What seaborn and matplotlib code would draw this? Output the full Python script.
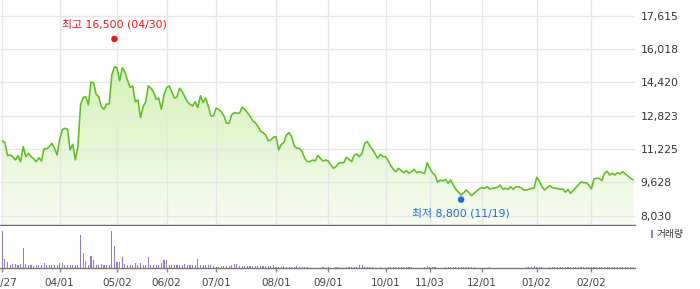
import numpy as np
import pandas as pd
import matplotlib
matplotlib.use("Agg")
import matplotlib.pyplot as plt
import seaborn as sns
from matplotlib.colors import LinearSegmentedColormap
from matplotlib.patches import Patch

# ---- data (trading-day index, closing price, volume in thousand shares) ----
close_price = [
    11610, 11530, 10910, 10940, 10860, 10700, 10910, 10620, 11340, 10860,
    11020, 10860, 10760, 10620, 10810, 10650, 11230, 11230, 11340, 11500,
    11260, 10940, 11690, 12140, 12220, 12170, 11180, 11450, 10700, 11340,
    13340, 13700, 13730, 13340, 14440, 14400, 13850, 13730, 13250, 13130,
    13380, 13380, 14770, 15170, 15120, 14490, 15120, 14930, 14530, 14180,
    14250, 13490, 13580, 12730, 13250, 13490, 14250, 14140, 13970, 13610,
    13660, 13130, 13810, 14160, 14250, 13970, 13660, 13730, 14140, 13970,
    13730, 13490, 13370, 13290, 13490, 13210, 13780, 13450, 13660, 13290,
    12810, 12810, 13180, 13130, 13010, 12810, 12460, 12460, 12860, 12970,
    12940, 12940, 13230, 13130, 12970, 12810, 12580, 12490, 12330, 12090,
    12010, 11900, 11620, 11660, 11790, 11820, 11180, 11450, 11530, 11900,
    12010, 11820, 11370, 11260, 11260, 11100, 10780, 10620, 10620, 10700,
    10650, 10920, 10780, 10650, 10700, 10650, 10460, 10300, 10380, 10540,
    10570, 10570, 10830, 10730, 10620, 10940,
    10990, 10860, 11020, 11500, 11580, 11370, 11210, 10990, 10780,
    10970, 10860, 10860, 10670, 10430, 10250, 10140, 10300, 10190, 10090,
    10190, 10060, 10140, 10250, 10090, 10140, 10090, 10060, 10570, 10300,
    10090, 9980, 9630, 9740, 9690, 9770, 9580, 9740, 9500, 9290,
    9150, 9020, 9130, 9260, 9130, 8990, 9100, 9210, 9320, 9370,
    9340, 9420, 9310, 9340, 9360, 9390, 9500, 9290, 9340, 9290,
    9420, 9290, 9420, 9420, 9370, 9260, 9260, 9290, 9340, 9340,
    9870, 9690, 9420, 9260, 9370, 9470, 9370, 9340, 9340, 9290,
    9310, 9150, 9290, 9100, 9230, 9370, 9500, 9650, 9610, 9610,
    9500, 9310, 9790, 9820, 9820, 9710, 10060, 10160, 9980, 10060,
    9980, 10090, 10030, 10140, 10030, 9930, 9820, 9740,
]

volume_k = [
    110, 28, 18, 10, 11, 11, 8, 11, 60, 13,
    8, 10, 5, 8, 10, 10, 16, 8, 10, 10,
    10, 8, 16, 16, 10, 10, 8, 8, 10, 8,
    98, 44, 20, 10, 35, 23, 10, 10, 13, 10,
    10, 8, 110, 65, 18, 18, 32, 13, 10, 10,
    10, 16, 8, 16, 10, 8, 32, 10, 8, 10,
    8, 16, 23, 23, 10, 10, 10, 10, 10, 10,
    13, 8, 10, 8, 8, 28, 8, 8, 8, 8,
    8, 6, 4, 4,
    6, 6, 5, 6,
    10, 13, 11,
    6, 5, 6, 7, 5, 6, 6, 5, 6, 6, 5, 6, 5,
    9,
    4, 4, 4, 5, 4, 4, 4, 4, 5, 4, 4, 4, 4,
    1, 1, 1, 1, 1,
    3, 1, 3, 1, 1, 3, 3, 1, 1,
    4, 4, 4, 4, 4, 9, 8, 4, 4, 4, 4,
    1, 1, 3, 1, 1,
    4, 3, 4, 3, 4, 4, 3, 4, 3, 4,
    1, 1, 1, 1,
    4, 7, 4, 3, 3,
    1, 1, 1,
    3, 3, 4, 3, 3, 3, 4, 3, 3, 3, 3, 3,
    1, 1, 1, 1, 1,
    3,
    1, 1, 1, 1, 1, 1, 1, 1, 1, 1, 1, 1, 1,
    3, 3, 4, 6, 3, 4, 3,
    1, 1,
    3, 3, 4, 3, 3, 3, 4, 3, 3, 3, 3, 4, 3, 3, 3, 3, 4, 3, 3, 3,
    3, 3, 4, 3, 3, 3, 3, 3, 4, 3, 3, 3, 3,
]

tick_idx = [0, 22, 44, 63, 82, 105, 125, 147, 164, 184, 205, 226]
tick_labels = ["02/27", "04/01", "05/02", "06/02", "07/01", "08/01",
               "09/01", "10/01", "11/03", "12/01", "01/02", "02/02"]
price_ticks = [8030, 9628, 11225, 12823, 14420, 16018, 17615]

high_idx, high_value, high_date = 43, 16500, "04/30"
low_idx, low_value, low_date = 176, 8800, "11/19"

assert len(close_price) == len(volume_k), (len(close_price), len(volume_k))

# ---- style ----
sns.set_theme(style="white")
plt.rcParams["font.family"] = ["DejaVu Sans", "Noto Sans CJK KR"]

df = pd.DataFrame({"idx": np.arange(len(close_price)),
                   "close": close_price,
                   "volume": volume_k})

line_c = "#5cbf22"
vol_c = "#9479cc"
grid_c = "#e6e6e6"

fig = plt.figure(figsize=(7, 2.89), dpi=100)
ax = fig.add_axes([0, 0.2215, 0.9071, 0.7785])
axv = fig.add_axes([0, 0.0727, 0.9071, 0.1453])

y_lo, y_hi = 7583, 18367
x_lo, x_hi = -0.9, 242.7

# gradient area fill under the price line
cmap = LinearSegmentedColormap.from_list("g", ["#f7fcf1", "#c6eea0"])
grad = np.linspace(1, 0, 256).reshape(-1, 1)
im = ax.imshow(grad, extent=[x_lo, x_hi, y_lo, y_hi], aspect="auto",
               cmap=cmap, origin="upper", zorder=1)
fill = ax.fill_between(df["idx"], df["close"], y_lo,
                       facecolor="none", edgecolor="none")
im.set_clip_path(fill.get_paths()[0], transform=ax.transData)

sns.lineplot(data=df, x="idx", y="close", ax=ax, color=line_c,
             linewidth=1.15, zorder=3)

# high / low markers
sns.scatterplot(x=[high_idx], y=[high_value], ax=ax, color="#ee1515",
                s=22, edgecolor="none", zorder=4)
sns.scatterplot(x=[low_idx], y=[low_value], ax=ax, color="#1c6ad8",
                s=22, edgecolor="none", zorder=4)
ax.annotate(f"최고 {high_value:,} ({high_date})", xy=(high_idx, high_value),
            xytext=(0, 15), textcoords="offset pixels", ha="center",
            va="center", color="#ee1515", fontsize=7.8)
ax.annotate(f"최저 {low_value:,} ({low_date})", xy=(low_idx, low_value),
            xytext=(0, -14), textcoords="offset pixels", ha="center",
            va="center", color="#1c6ad8", fontsize=7.8)

ax.set_xlim(x_lo, x_hi)
ax.set_ylim(y_lo, y_hi)
ax.set_xticks(tick_idx)
ax.set_yticks(price_ticks)
ax.set_yticklabels([f"{v:,}" for v in price_ticks])
ax.yaxis.tick_right()
ax.tick_params(axis="y", length=0, pad=4, labelsize=7.8, labelcolor="#333333")
ax.tick_params(axis="x", length=0, labelbottom=False)
ax.grid(True, color=grid_c, linewidth=1)
ax.set_axisbelow("line")
ax.set_xlabel("")
ax.set_ylabel("")
for s in ["top", "left", "right"]:
    ax.spines[s].set_visible(False)
ax.spines["bottom"].set_color("#6a6a6a")
ax.spines["bottom"].set_linewidth(1)

# volume bars
sns.barplot(data=df, x="idx", y="volume", ax=axv, color=vol_c, width=0.42,
            saturation=1, native_scale=True, errorbar=None, linewidth=0,
            antialiased=False)
axv.set_xlim(x_lo, x_hi)
axv.set_ylim(0, 126)
axv.set_xticks(tick_idx)
axv.set_xticklabels(tick_labels)
axv.set_yticks([])
axv.set_xlabel("")
axv.set_ylabel("")
axv.tick_params(axis="x", direction="out", length=3, width=1, color="#888888",
                pad=4, labelsize=7.5, labelcolor="#444444", bottom=True)
for s in ["top", "left", "right"]:
    axv.spines[s].set_visible(False)
axv.spines["bottom"].set_color("#777777")
axv.spines["bottom"].set_linewidth(1)

fig.legend(handles=[Patch(facecolor=vol_c, edgecolor="none")], labels=["거래량"],
           loc="upper left", bbox_to_anchor=(651 / 700, 1 - 229 / 289),
           frameon=False, fontsize=7, handlelength=0.25, handleheight=0.9,
           handletextpad=0.3, borderpad=0, borderaxespad=0,
           labelcolor="#333333")

fig.savefig("out.png", dpi=100)
